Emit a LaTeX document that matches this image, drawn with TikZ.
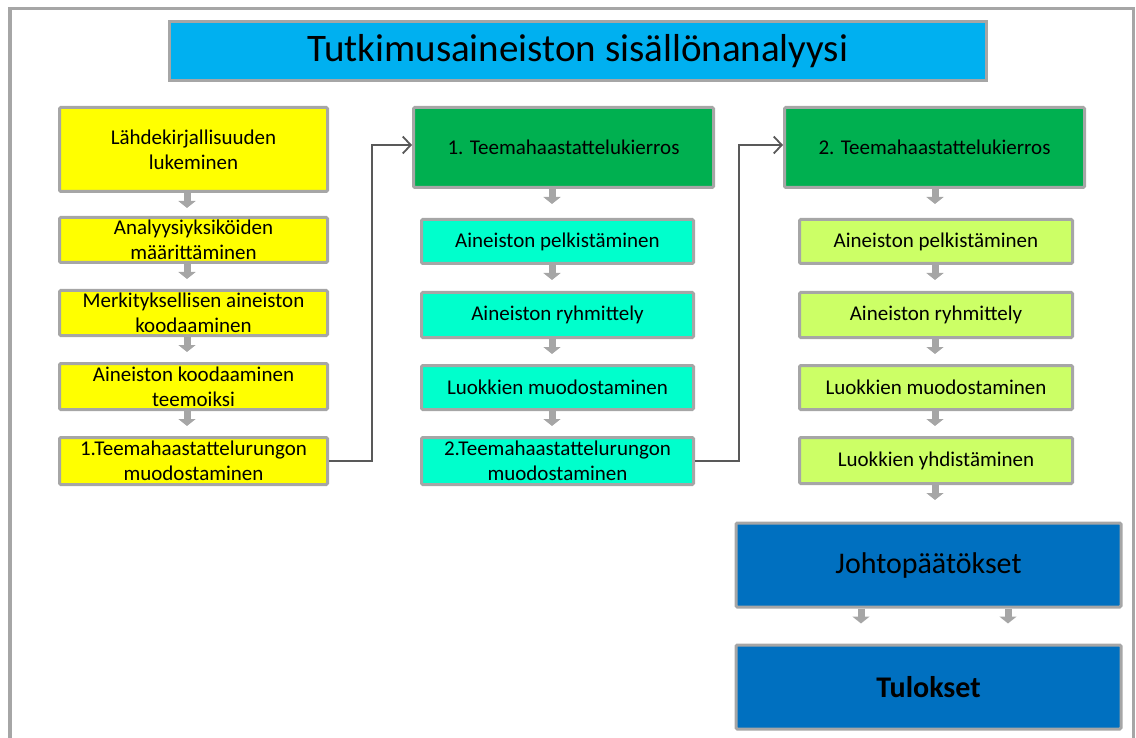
\documentclass[tikz,border=0pt]{standalone}
\usepackage{fontspec}
\setmainfont{Carlito}
\usetikzlibrary{arrows.meta}

\definecolor{framegray}{HTML}{A6A6A6}
\definecolor{linegray}{HTML}{595959}
\definecolor{titleblue}{HTML}{00B0F0}
\definecolor{boxyellow}{HTML}{FFFF00}
\definecolor{headgreen}{HTML}{00B050}
\definecolor{boxaqua}{HTML}{00FFCC}
\definecolor{boxlime}{HTML}{CCFF66}
\definecolor{boxblue}{HTML}{0070C0}

\tikzset{
  card/.style={draw=framegray, line width=3pt, rounded corners=1.2pt,
    align=center, inner sep=2pt, text=black,
    font=\fontsize{21}{25}\selectfont},
  ycard/.style={card, fill=boxyellow, minimum width=268pt},
  acard/.style={card, fill=boxaqua, minimum width=272pt},
  lcard/.style={card, fill=boxlime, minimum width=273pt},
  hcard/.style={card, fill=headgreen, minimum height=80pt},
  bcard/.style={card, fill=boxblue, minimum width=385pt, minimum height=84pt,
    font=\fontsize{30}{34}\selectfont},
  flowdown/.style={draw=framegray, line width=7pt,
    -{Triangle[width=17pt,length=7pt]}},
  conn/.style={draw=linegray, line width=1.8pt,
    -{Straight Barb[length=8pt,width=17pt,line width=1.8pt]}},
}

\begin{document}
\begin{tikzpicture}[x=1pt,y=-1pt]
\useasboundingbox (0,0) rectangle (1136,738);

% outer frame, open at the bottom edge of the page
\draw[framegray, line width=3.5pt] (10,745) -- (10,8.5) -- (1133.5,8.5) -- (1133.5,745);

% title bar
\node[draw=framegray, line width=3pt, fill=titleblue, minimum width=817pt,
      minimum height=59pt, font=\fontsize{39}{42}\selectfont]
  (title) at (578,51) {Tutkimusaineiston sisällönanalyysi};

% left column
\node[ycard, minimum height=84pt] (y1) at (193.5,149.5) {Lähdekirjallisuuden\\lukeminen};
\node[ycard, minimum height=45pt] (y2) at (193.5,240) {Analyysiyksiköiden\\määrittäminen};
\node[ycard, minimum height=45pt] (y3) at (193.5,313) {Merkityksellisen aineiston\\koodaaminen};
\node[ycard, minimum height=46pt] (y4) at (193.5,386.5) {Aineiston koodaaminen\\teemoiksi};
\node[ycard, minimum height=47pt] (y5) at (193.5,461) {1.Teemahaastattelurungon\\muodostaminen};

% middle column
\node[hcard, minimum width=300pt] (g1) at (563.5,147.5) {1. Teemahaastattelukierros};
\node[acard, minimum height=44pt] (c1) at (557.5,241.5) {Aineiston pelkistäminen};
\node[acard, minimum height=45pt] (c2) at (557.5,315) {Aineiston ryhmittely};
\node[acard, minimum height=44pt] (c3) at (557.5,387.5) {Luokkien muodostaminen};
\node[acard, minimum height=47pt] (c4) at (557.5,461) {2.Teemahaastattelurungon\\muodostaminen};

% right column
\node[hcard, minimum width=300pt] (g2) at (934.5,147.5) {2. Teemahaastattelukierros};
\node[lcard, minimum height=44pt] (l1) at (936,241.5) {Aineiston pelkistäminen};
\node[lcard, minimum height=45pt] (l2) at (936,315) {Aineiston ryhmittely};
\node[lcard, minimum height=44pt] (l3) at (936,387.5) {Luokkien muodostaminen};
\node[lcard, minimum height=46pt] (l4) at (936,460.5) {Luokkien yhdistäminen};

% conclusions and results
\node[bcard] (jp) at (928.5,565) {Johtopäätökset};
\node[bcard, font=\fontsize{30}{34}\selectfont\bfseries] (tu) at (928.5,687) {Tulokset};

% x positions of the small down arrows in each column
\coordinate (ax1) at (187,0);
\coordinate (ax2) at (552,0);
\coordinate (ax3) at (935,0);
\coordinate (axl) at (861,0);
\coordinate (axr) at (1008,0);

\foreach \n in {y1,y2,y3,y4}
  \draw[flowdown] (\n.south -| ax1) -- ++(0,15);
\foreach \n in {g1,c1,c2,c3}
  \draw[flowdown] (\n.south -| ax2) -- ++(0,15);
\foreach \n in {g2,l1,l2,l3,l4}
  \draw[flowdown] (\n.south -| ax3) -- ++(0,15);
\draw[flowdown] (jp.south -| axl) -- ++(0,15);
\draw[flowdown] (jp.south -| axr) -- ++(0,15);

% connectors from the interview frames to the interview rounds
\coordinate (v1) at (372,0);
\coordinate (v2) at (739,0);
\draw[conn] (y5.east) -- (y5.east -| v1) |- ([yshift=2.5pt]g1.west);
\draw[conn] (c4.east) -- (c4.east -| v2) |- ([yshift=2.5pt]g2.west);
\end{tikzpicture}
\end{document}
